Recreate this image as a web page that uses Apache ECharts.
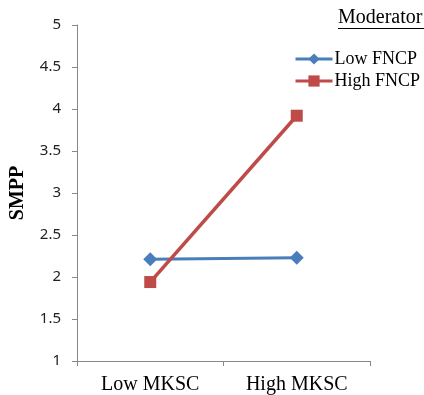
<!DOCTYPE html>
<html><head><meta charset="utf-8">
<script src="https://cdn.jsdelivr.net/npm/echarts@6/dist/echarts.min.js"></script>
<style>html,body{margin:0;padding:0;background:#fff}#c{width:424px;height:395px}</style>
</head><body><div id="c"></div>
<script>
const categories = ['Low MKSC', 'High MKSC'];
const lowFNCP = [2.21, 2.23];
const highFNCP = [1.94, 3.92];
const yTicks = [1, 1.5, 2, 2.5, 3, 3.5, 4, 4.5, 5];

const chart = echarts.init(document.getElementById('c'));
chart.setOption({
  animation: false,
  grid: {left: 77, right: 54, top: 25, bottom: 34, containLabel: false},
  title: {
    text: 'Moderator', left: 338, top: 8, padding: 0,
    textStyle: {fontFamily: 'Liberation Serif', fontSize: 20, fontWeight: 'normal', color: '#000'}
  },
  graphic: [{type: 'line', shape: {x1: 338, y1: 28.5, x2: 424, y2: 28.5}, style: {stroke: '#000', lineWidth: 1.2}}],
  legend: {
    orient: 'vertical', left: 294, top: 50, itemGap: 4, padding: 0,
    itemWidth: 37, itemHeight: 14,
    lineStyle: {width: 3},
    textStyle: {fontFamily: 'Liberation Serif', fontSize: 18, color: '#000', padding: [0,0,0,-3]},
    data: ['Low FNCP', 'High FNCP']
  },
  xAxis: {
    type: 'category', data: categories, boundaryGap: true,
    axisLine: {lineStyle: {color: '#888', width: 1}},
    axisTick: {show: true, length: 5, lineStyle: {color: '#888'}},
    axisLabel: {fontFamily: 'Liberation Serif', fontSize: 20, color: '#000', margin: 14}
  },
  yAxis: {
    type: 'value', min: 1, max: 5, interval: 0.5,
    name: 'SMPP', nameLocation: 'middle', nameGap: 49, nameRotate: 90,
    nameTextStyle: {fontFamily: 'Liberation Serif', fontSize: 20, fontWeight: 'bold', color: '#000'},
    axisLine: {show: true, lineStyle: {color: '#888', width: 1}},
    axisTick: {show: true, length: 5, lineStyle: {color: '#888'}},
    splitLine: {show: false},
    axisLabel: {fontFamily: 'Noto Sans', fontSize: 15, color: '#222', margin: 16,
      formatter: v => yTicks.includes(v) ? String(v) : ''}
  },
  series: [
    {name: 'Low FNCP', type: 'line', data: lowFNCP, symbol: 'diamond', symbolSize: 14,
     lineStyle: {color: '#4a7ebb', width: 3}, itemStyle: {color: '#4a7ebb'}},
    {name: 'High FNCP', type: 'line', data: highFNCP, symbol: 'rect', symbolSize: 12,
     lineStyle: {color: '#be4b48', width: 3.5}, itemStyle: {color: '#be4b48'}}
  ]
});
</script></body></html>
